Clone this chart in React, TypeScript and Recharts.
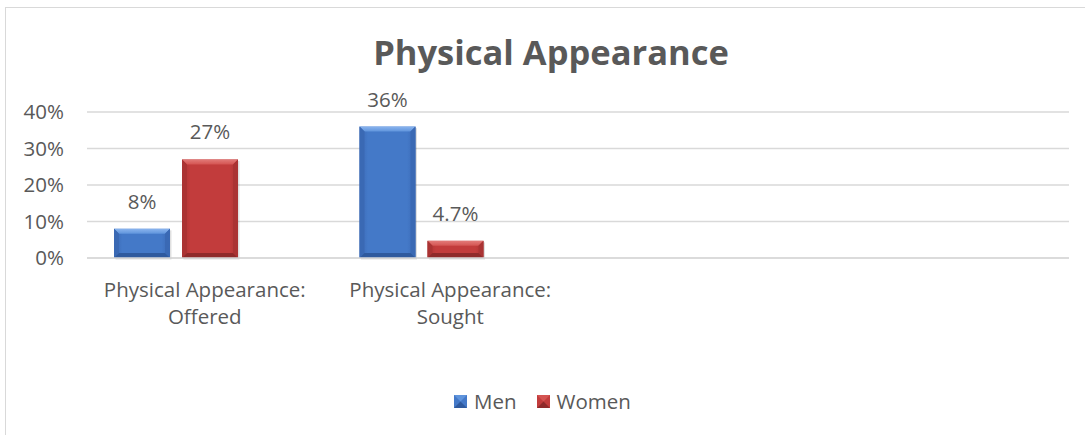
import React from 'react';
import { BarChart, Bar, XAxis, YAxis, CartesianGrid, LabelList, Legend } from 'recharts';

// ---- data ----
const categories = ['Physical Appearance: Offered', 'Physical Appearance: Sought', '', ' '];
const menValues: (number | null)[] = [8, 36, null, null];
const womenValues: (number | null)[] = [27, 4.7, null, null];
const emptySeriesValues: (number | null)[] = [null, null, null, null];
const yTicks = [0, 10, 20, 30, 40];
const seriesNames = ['Men', 'Women'];
const chartTitle = 'Physical Appearance';

const data = categories.map((c, i) => ({
  name: c,
  men: menValues[i],
  women: womenValues[i],
  extra: emptySeriesValues[i],
}));

// ---- styles ----
const FONT = '"Open Sans", Lato, sans-serif';
const FS = 20.5;
const TEXT = '#595959';
const GRID = '#d9d9d9';

type Palette = { main: string; light: string; top: string; side: string; dark: string };
const BLUE: Palette = { main: '#4479c8', light: '#8ab4ee', top: '#5f94dc', side: '#3a69b4', dark: '#2f5a9e' };
const RED: Palette = { main: '#c23c3c', light: '#e27a78', top: '#d45452', side: '#aa3333', dark: '#8f2a2a' };

const makeBevel = (p: Palette, id: string) => (props: any) => {
  const { x, y, width: w, height: h } = props;
  if (h == null || !(h > 0) || !(w > 0)) return null;
  const b = Math.min(5, h / 2, w / 2);
  return (
    <g>
      <defs>
        <linearGradient id={`top-${id}`} x1="0" y1="0" x2="0" y2="1">
          <stop offset="0%" stopColor={p.light} />
          <stop offset="100%" stopColor={p.top} />
        </linearGradient>
        <linearGradient id={`body-${id}`} x1="0" y1="0" x2="1" y2="0">
          <stop offset="0%" stopColor={p.side} />
          <stop offset="15%" stopColor={p.main} />
          <stop offset="85%" stopColor={p.main} />
          <stop offset="100%" stopColor={p.side} />
        </linearGradient>
      </defs>
      <rect x={x + 1.5} y={y + 1.5} width={w} height={h} fill="#000" opacity={0.12} />
      <rect x={x} y={y} width={w} height={h} fill={`url(#body-${id})`} />
      <polygon points={`${x},${y} ${x + w},${y} ${x + w - b},${y + b} ${x + b},${y + b}`} fill={`url(#top-${id})`} />
      <polygon points={`${x},${y} ${x + b},${y + b} ${x + b},${y + h - b} ${x},${y + h}`} fill={p.side} />
      <polygon points={`${x + w},${y} ${x + w - b},${y + b} ${x + w - b},${y + h - b} ${x + w},${y + h}`} fill={p.side} />
      <polygon points={`${x},${y + h} ${x + b},${y + h - b} ${x + w - b},${y + h - b} ${x + w},${y + h}`} fill={p.dark} />
    </g>
  );
};

const BlueBar = makeBevel(BLUE, 'blue');
const RedBar = makeBevel(RED, 'red');

const CategoryTick = (props: any) => {
  const { x, y, payload } = props;
  const v = String(payload?.value ?? '').trim();
  if (!v) return null;
  const idx = v.indexOf(':');
  const lines = idx >= 0 ? [v.slice(0, idx + 1), v.slice(idx + 1).trim()] : [v];
  return (
    <text x={x - 5} y={y} textAnchor="middle" fill={TEXT} fontSize={FS} fontFamily={FONT}>
      {lines.map((l, i) => (
        <tspan key={i} x={x - 5} dy={i === 0 ? 39 : 27}>
          {l}
        </tspan>
      ))}
    </text>
  );
};

const fmtPct = (v: any) => (v == null || v === '' ? '' : `${v}%`);

const LegendIcon = ({ p }: { p: Palette }) => (
  <svg width={13} height={13} style={{ display: 'block' }}>
    <rect x={0} y={0} width={13} height={13} fill={p.main} />
    <polygon points="0,0 13,0 6.5,6.5" fill={p.top} />
    <polygon points="0,13 13,13 6.5,6.5" fill={p.dark} />
  </svg>
);

const LegendContent = () => (
  <div style={{ display: 'flex', justifyContent: 'center', alignItems: 'center', fontFamily: FONT, fontSize: FS, color: TEXT }}>
    {seriesNames.map((n, i) => (
      <div key={n} style={{ display: 'flex', alignItems: 'center', marginLeft: i === 0 ? 0 : 20 }}>
        <LegendIcon p={i === 0 ? BLUE : RED} />
        <span style={{ marginLeft: 7, lineHeight: '26px' }}>{n}</span>
      </div>
    ))}
  </div>
);

export default function App() {
  return (
    <div style={{ position: 'absolute', left: 0, top: 0, width: 1085, height: 435, background: '#fff', overflow: 'hidden' }}>
      <div style={{ position: 'absolute', left: 5, top: 7, width: 1200, height: 600, border: `1px solid ${GRID}` }} />
      <svg style={{ position: 'absolute', left: 0, top: 0 }} width={1085} height={100}>
        <text x={551} y={65} textAnchor="middle" fontFamily={FONT} fontWeight={700} fontSize={34.5} fill={TEXT}>
          {chartTitle}
        </text>
      </svg>
      <div style={{ position: 'absolute', left: 0, top: 0 }}>
        <BarChart
          width={1085}
          height={435}
          data={data}
          margin={{ top: 112, right: 16, bottom: 147, left: 0 }}
          barSize={56}
          barGap={12}
        >
          <CartesianGrid vertical={false} stroke={GRID} strokeWidth={1.5} />
          <XAxis
            dataKey="name"
            height={30}
            axisLine={{ stroke: GRID, strokeWidth: 1.5 }}
            tickLine={false}
            tickSize={0}
            tickMargin={0}
            interval={0}
            tick={<CategoryTick />}
          />
          <YAxis
            domain={[0, 40]}
            ticks={yTicks}
            interval={0}
            width={87}
            axisLine={false}
            tickLine={false}
            tickSize={0}
            tickMargin={23}
            tickFormatter={(v: number) => `${v}%`}
            tick={{ fill: TEXT, fontSize: FS, fontFamily: FONT }}
          />
          <Legend
            layout="horizontal"
            verticalAlign="middle"
            align="center"
            wrapperStyle={{ top: 388, left: 0, width: 1085 }}
            content={<LegendContent />}
          />
          <Bar dataKey="men" name="Men" fill={BLUE.main} shape={BlueBar} isAnimationActive={false}>
            <LabelList dataKey="men" position="top" offset={20} formatter={fmtPct} fill={TEXT} fontSize={FS} fontFamily={FONT} />
          </Bar>
          <Bar dataKey="women" name="Women" fill={RED.main} shape={RedBar} isAnimationActive={false}>
            <LabelList dataKey="women" position="top" offset={20} formatter={fmtPct} fill={TEXT} fontSize={FS} fontFamily={FONT} />
          </Bar>
          <Bar dataKey="extra" name="" legendType="none" fill="transparent" isAnimationActive={false} />
        </BarChart>
      </div>
    </div>
  );
}
